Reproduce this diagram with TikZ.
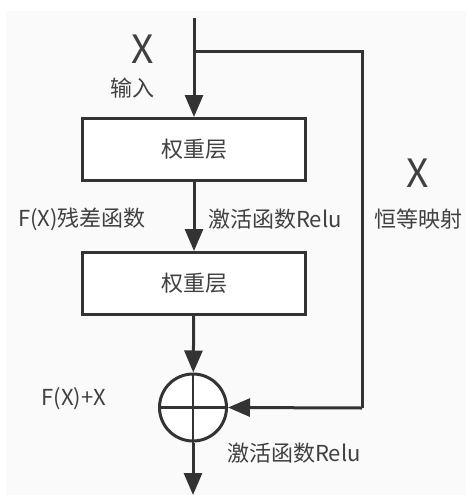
\documentclass[tikz,border=0pt]{standalone}
\usepackage{fontspec}
\setmainfont{Noto Sans CJK SC}
\usetikzlibrary{arrows.meta,positioning}
\definecolor{ln}{HTML}{333333}
\definecolor{tx}{HTML}{404040}
\definecolor{bg}{HTML}{FAFAFA}

\begin{document}
\begin{tikzpicture}[x=1pt,y=-1pt,
  box/.style={draw=ln,fill=white,line width=3pt,minimum width=223pt,minimum height=62pt,inner sep=0pt,font=\fontsize{22}{25}\selectfont,text=tx},
  sum/.style={circle,draw=ln,fill=white,line width=3pt,minimum size=67pt,inner sep=0pt},
  e/.style={draw=ln,line width=3pt},
  a/.style={e,-{Triangle[length=22pt,width=18pt]}},
  lab/.style={font=\fontsize{22}{25}\selectfont,text=tx,inner sep=0pt},
  big/.style={font=\fontsize{39}{42}\selectfont,text=tx,inner sep=0pt}]
  \useasboundingbox (0,0) rectangle (467,495);
  \fill[bg] (6,11) rectangle (466,495);
  % main path
  \coordinate (in) at (194,18); \coordinate (br) at (194,52);
  \coordinate (c1) at (362,52); \coordinate (c2) at (362,408);
  \coordinate (out) at (193,495);
  \node[box] (w1) at (194,149.5) {权重层};
  \node[box] (w2) at (194,283.5) {权重层};
  \node[sum] (s) at (193,407.5) {};
  \draw[a] (in)--(w1);
  \draw[a] (w1)--(w2);
  \draw[a] (w2)--(s);
  \draw[a] (s)--(out);
  % identity shortcut
  \draw[e] (br)--(c1)--(c2);
  \draw[a] (c2)--(s.east);
  \draw[e,line width=2.6pt] (s.north)--(s.south) (s.west)--(s.east);
  % labels
  \node[big] (x1) at (143,49) {X};
  \node[lab] (xin) at (132,88) {输入};
  \node[big] (x2) at (418,173) {X};
  \node[lab,below=46pt of x2.center,anchor=center] (id) {恒等映射};
  \node[lab] (fx) at (82,219) {F(X)残差函数};
  \node[lab] (r1) at (275,219) {激活函数Relu};
  \node[lab] (fxx) at (74,399) {F(X)+X};
  \node[lab] (r2) at (294,453) {激活函数Relu};
\end{tikzpicture}
\end{document}
